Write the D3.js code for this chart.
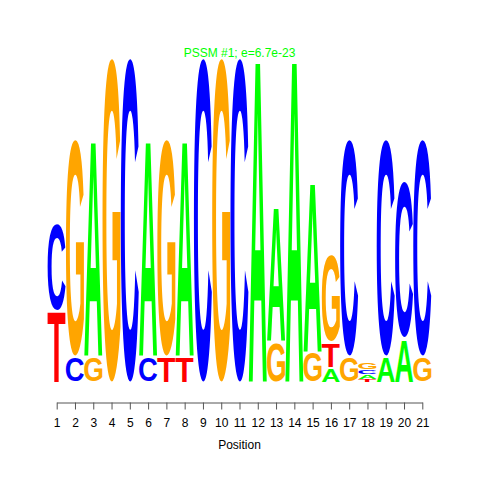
<!DOCTYPE html>
<html>
<head>
<meta charset="utf-8">
<script src="https://cdn.jsdelivr.net/npm/d3@7"></script>
<style>
  html, body { margin: 0; padding: 0; background: #fff; }
  svg { display: block; }
</style>
</head>
<body>
<svg id="chart" width="480" height="480"></svg>
<script>
// ---- data (information content in bits per letter) ----
const positions = d3.range(1, 22);
const tickLabels = positions.map(String);
const bitsA = [0, 0, 1.34, 0, 0, 1.34, 0, 1.34, 0, 0, 0, 2.0, 0.84, 2.0, 1.05, 0.09, 0, 0.03, 0.16, 0.27, 0];
const bitsC = [0.54, 0.16, 0, 0, 2.0, 0.16, 0, 0, 2.0, 0, 2.0, 0, 0, 0, 0, 0, 1.34, 0.03, 1.34, 0.97, 1.34];
const bitsG = [0, 1.34, 0.16, 2.0, 0, 0, 1.34, 0, 0, 2.0, 0, 0, 0.25, 0, 0.19, 0.535, 0.16, 0.045, 0, 0, 0.16];
const bitsT = [0.44, 0, 0, 0, 0, 0, 0.16, 0.16, 0, 0, 0, 0, 0, 0, 0, 0.155, 0, 0.015, 0, 0, 0];
const letters = ["A", "C", "G", "T"];
const letterColors = { A: "#00FF00", C: "#0000FF", G: "#FFA500", T: "#FF0000" };
const titleText = "PSSM #1; e=6.7e-23";
const xLabel = "Position";

// ---- layout ----
const svg = d3.select("#chart");
const x = d3.scaleLinear().domain([1, 21]).range([56.7, 422.3]);
const y = d3.scaleLinear().domain([0, 2]).range([381.5, 56.5]);
const colW = (x(21) - x(1)) / 20;

// glyph metrics via canvas
const FONT = "Liberation Sans, Arial, Helvetica, sans-serif";
const ctx = document.createElement("canvas").getContext("2d");
ctx.font = "bold 100px " + FONT;
const metrics = {};
letters.forEach(L => {
  const m = ctx.measureText(L);
  metrics[L] = {
    left: m.actualBoundingBoxLeft,
    right: m.actualBoundingBoxRight,
    asc: m.actualBoundingBoxAscent,
    desc: m.actualBoundingBoxDescent
  };
});

const bitsBy = { A: bitsA, C: bitsC, G: bitsG, T: bitsT };
const stacks = [];
positions.forEach((p, i) => {
  const col = letters.map(L => ({ L, v: bitsBy[L][i] })).filter(d => d.v > 0)
    .sort((a, b) => a.v - b.v);
  let base = 0;
  col.forEach(d => {
    stacks.push({ pos: p, L: d.L, y0: base, y1: base + d.v });
    base += d.v;
  });
});

const g = svg.append("g");
g.selectAll("text.letter").data(stacks).join("text")
  .attr("class", "letter")
  .attr("font-family", FONT)
  .attr("font-weight", "bold")
  .attr("font-size", 100)
  .attr("fill", d => letterColors[d.L])
  .attr("transform", d => {
    const m = metrics[d.L];
    const w = m.left + m.right, h = m.asc + m.desc;
    const bx = x(d.pos) - colW / 2 + 0.1;
    const bw = colW - 0.2;
    const fullH = y(d.y0) - y(d.y1);
    const inset = Math.min(2, 0.1 * fullH);
    const by = y(d.y1) + inset;
    const bh = fullH - inset;
    return `translate(${bx},${by}) scale(${bw / w},${bh / h}) translate(${m.left},${m.asc})`;
  })
  .text(d => d.L);

// axis
const axis = d3.axisBottom(x).tickValues(positions).tickFormat((d, i) => tickLabels[i])
  .tickSize(7).tickSizeOuter(0).tickPadding(9);
const ax = svg.append("g").attr("transform", "translate(0,402.5)").call(axis);
ax.select(".domain").attr("stroke", "#555");
ax.selectAll(".tick line").attr("stroke", "#555");
ax.selectAll(".tick text").attr("font-family", FONT).attr("font-size", 12).attr("fill", "#000");

svg.append("text").attr("x", 239.5).attr("y", 449)
  .attr("text-anchor", "middle").attr("font-family", FONT).attr("font-size", 12)
  .attr("fill", "#000").text(xLabel);

svg.append("text").attr("x", 239.5).attr("y", 56.5)
  .attr("text-anchor", "middle").attr("font-family", FONT).attr("font-size", 12)
  .attr("fill", "#00FF00").text(titleText);
</script>
</body>
</html>
